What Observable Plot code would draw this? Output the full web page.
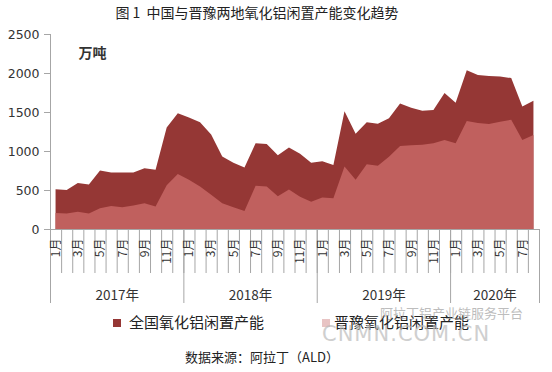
<!DOCTYPE html>
<html><head><meta charset="utf-8">
<script src="https://cdn.jsdelivr.net/npm/d3@7"></script>
<script src="https://cdn.jsdelivr.net/npm/@observablehq/plot@0.6"></script>
<style>
body{margin:0;background:#fff;font-family:"Noto Sans CJK SC","DejaVu Sans",sans-serif;}
#wrap{position:relative;width:552px;height:372px;overflow:hidden;}
#title{position:absolute;top:3px;left:0;width:514px;text-align:center;font-size:14px;line-height:18px;color:#222;}
#chart{position:absolute;top:24px;left:0;}
#legend{position:absolute;top:312px;left:0;width:552px;height:20px;font-size:15px;color:#222;}
.sw{position:absolute;width:8px;height:8px;top:7px;}
.lt{position:absolute;top:0;line-height:20px;white-space:nowrap;}
#source{position:absolute;top:348px;left:0;width:524px;text-align:center;font-size:13px;line-height:18px;color:#222;}
.wm{position:absolute;white-space:nowrap;color:#888;opacity:.55;}
</style></head>
<body><div id="wrap">
<div id="title">图 1&nbsp;&nbsp;中国与晋豫两地氧化铝闲置产能变化趋势</div>
<div id="chart"></div>
<div id="legend"></div>
<div id="source">数据来源：阿拉丁（ALD）</div>
<div class="wm" style="left:380px;top:303px;font-size:13px;">阿拉丁铝产业链服务平台</div>
<div class="wm" style="left:322px;top:322px;font-size:21px;font-family:'DejaVu Sans';color:#bbb;opacity:.7;letter-spacing:1px;">CNMN.COM.CN</div>
</div>
<script>
const years = [2017, 2018, 2019, 2020];
const monthsPerYear = [12, 12, 12, 8];
const seriesNames = ["全国氧化铝闲置产能", "晋豫氧化铝闲置产能"];
const unitLabel = "万吨";
const yTicks = [0, 500, 1000, 1500, 2000, 2500];
const national = [
  510, 500, 590, 570, 750, 725, 725, 725, 780, 760, 1300, 1485,
  1430, 1370, 1210, 930, 850, 790, 1100, 1090, 945, 1045, 965, 850,
  870, 820, 1510, 1220, 1370, 1350, 1420, 1610, 1555, 1515, 1525, 1745,
  1620, 2035, 1975, 1960, 1955, 1935, 1570, 1645
];
const jinyu = [
  205, 200, 220, 200, 265, 295, 280, 300, 330, 290, 560, 705,
  630, 545, 440, 330, 280, 230, 555, 545, 420, 505, 415, 350,
  405, 395, 800, 630, 830, 810, 925, 1065, 1075, 1080, 1100, 1140,
  1100, 1385, 1360, 1345, 1375, 1400, 1140, 1205
];
const colors = ["#953735", "#c0605e"];
const legendSwatch = ["#953735", "#e8c4c4"];

// build table
const rows = [];
let idx = 0;
const yearInfo = [];
years.forEach((y, k) => {
  const start = idx;
  for (let m = 1; m <= monthsPerYear[k]; m++) {
    rows.push({i: idx, year: y, month: m, label: m + "月", national: national[idx], jinyu: jinyu[idx]});
    idx++;
  }
  yearInfo.push({year: y, label: y + "年", start: start - 0.5, end: idx - 0.5, mid: (start + idx - 1) / 2});
});
const n = rows.length;
const boundaries = d3.range(n + 1).map(k => k - 0.5);
const yearBounds = [yearInfo[0].start, ...yearInfo.map(d => d.end)];
const oddMonths = rows.filter(d => d.month % 2 === 1);

const axisGray = "#a6a6a6";
const W = 552, H = 286, mt = 10, mb = 81;
const frameH = H - mt - mb;

const chart = Plot.plot({
  width: W, height: H,
  marginLeft: 50, marginRight: 13, marginTop: mt, marginBottom: mb,
  style: {fontFamily: "'DejaVu Sans', sans-serif", color: "#333", background: "transparent"},
  x: {type: "linear", domain: [-0.5, n - 0.5], axis: null},
  y: {domain: [0, 2500], axis: null},
  marks: [
    Plot.areaY(rows, {x: "i", y: "national", fill: colors[0]}),
    Plot.areaY(rows, {x: "i", y: "jinyu", fill: colors[1]}),
    Plot.axisY({ticks: yTicks, tickSize: 6, tickPadding: 5, stroke: axisGray, fontSize: 12.5, fill: "#333", label: null, tickFormat: d => String(d)}),
    Plot.ruleY([0], {stroke: axisGray}),
    Plot.ruleX([-0.5], {stroke: axisGray}),
    Plot.ruleX(boundaries, {stroke: axisGray, insetTop: frameH, insetBottom: -44}),
    Plot.ruleX(yearBounds, {stroke: axisGray, insetTop: frameH, insetBottom: -74}),
    Plot.text(oddMonths, {x: "i", y: 0, text: "label", rotate: -90, textAnchor: "end", dy: 9, fontSize: 12, fill: "#333", fontFamily: "'Noto Sans CJK SC', sans-serif"}),
    Plot.text(yearInfo, {x: "mid", y: 0, text: "label", dy: 66, fontSize: 13.5, fill: "#333", fontFamily: "'Noto Sans CJK SC', sans-serif"}),
    Plot.text([unitLabel], {frameAnchor: "top-left", dx: 28, dy: 14, fontSize: 14, fontWeight: "bold", fill: "#333", fontFamily: "'Noto Sans CJK SC', sans-serif"})
  ]
});
document.getElementById("chart").appendChild(chart);

// legend
const lg = document.getElementById("legend");
const legendPos = [{sw: 113, tx: 129}, {sw: 322, tx: 334}];
seriesNames.forEach((name, k) => {
  const s = document.createElement("div");
  s.className = "sw"; s.style.left = legendPos[k].sw + "px"; s.style.background = legendSwatch[k];
  const t = document.createElement("div");
  t.className = "lt"; t.style.left = legendPos[k].tx + "px"; t.textContent = name;
  lg.appendChild(s); lg.appendChild(t);
});
</script>
</body></html>
